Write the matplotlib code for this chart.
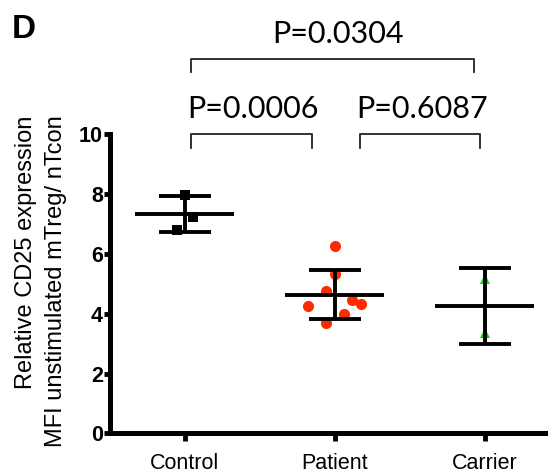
import numpy as np
import matplotlib

matplotlib.use("Agg")
import matplotlib.pyplot as plt  # noqa: E402

# values
groups = ["Control", "Patient", "Carrier"]
control_vals = [7.97, 7.21, 6.80]
patient_vals = [6.26, 5.34, 4.77, 4.46, 4.31, 4.24, 4.00, 3.69]
carrier_vals = [5.16, 3.36]
# horizontal scatter of the points around each group centre
control_jitter = [0.0, 0.056, -0.056]
patient_jitter = [0.0, 0.0, -0.063, 0.112, 0.175, -0.182, 0.063, -0.063]
carrier_jitter = [0.0, 0.0]

p_labels = ["P=0.0006", "P=0.6087", "P=0.0304"]

plt.rcParams["font.family"] = ["Liberation Sans", "DejaVu Sans"]

fig = plt.figure(figsize=(5.48, 4.74), dpi=100)
ax = fig.add_axes([0.2007, 0.0855, 0.7993, 0.632])

styles = [
    dict(marker="s", color="black", ms=7.5),
    dict(marker="o", color="#ff2a00", ms=8),
    dict(marker="^", color="#00dd00", ms=7),
]
all_vals = [control_vals, patient_vals, carrier_vals]
all_jit = [control_jitter, patient_jitter, carrier_jitter]

for i, (vals, jit, st) in enumerate(zip(all_vals, all_jit, styles)):
    xc = i + 1
    v = np.asarray(vals, dtype=float)
    xs = xc + np.asarray(jit)
    ax.plot(xs, v, linestyle="none", marker=st["marker"], color=st["color"],
            markersize=st["ms"], markeredgewidth=0, zorder=2)
    # mean with SD bars
    m = v.mean()
    sd = v.std(ddof=1)
    ax.hlines(m, xc - 0.33, xc + 0.33, color="black", lw=2.8, zorder=3)
    ax.vlines(xc, m - sd, m + sd, color="black", lw=2.8, zorder=3)
    ax.hlines([m - sd, m + sd], xc - 0.175, xc + 0.175, color="black", lw=2.8,
              zorder=3)

ax.set_xlim(0.5, 3.42)
ax.set_ylim(0, 10)
ax.set_yticks([0, 2, 4, 6, 8, 10])
ax.set_xticks([1, 2, 3])
ax.set_xticklabels(groups, fontsize=15.5)
for lab in ax.get_yticklabels():
    lab.set_fontweight("bold")
    lab.set_fontsize(15.5)
ax.tick_params(axis="y", width=3.5, length=4, direction="out", pad=1)
ax.tick_params(axis="x", width=3.5, length=6, direction="out", pad=8)
for side in ["top", "right"]:
    ax.spines[side].set_visible(False)
for side in ["left", "bottom"]:
    ax.spines[side].set_linewidth(3.6)

fig.text(0.075, 0.406, "Relative CD25 expression\nMFI unstimulated mTreg/ nTcon",
         rotation=90, ha="center", va="center", multialignment="right",
         fontsize=17, linespacing=1.45,
         family=["Liberation Sans Narrow", "Liberation Sans", "DejaVu Sans"])

# significance brackets: x0, x1, top, foot, text x, text y
brackets = [
    (1.04, 1.846, 10.0, 9.53, 1.455, 10.83),
    (2.168, 2.965, 10.0, 9.53, 2.584, 10.83),
    (1.04, 2.93, 12.5, 12.07, 2.02, 13.33),
]
for (x0, x1, ytop, ybot, tx, ty), label in zip(brackets, p_labels):
    ax.plot([x0, x0, x1, x1], [ybot, ytop, ytop, ybot], color="#222222",
            lw=1.3, clip_on=False)
    ax.text(tx, ty, label, ha="center", va="center", fontsize=22,
            family=["Lato", "DejaVu Sans"], clip_on=False)

fig.text(0.022, 0.937, "D", fontsize=24, fontweight="bold", ha="left", va="center")

fig.savefig("out.png", dpi=100)
